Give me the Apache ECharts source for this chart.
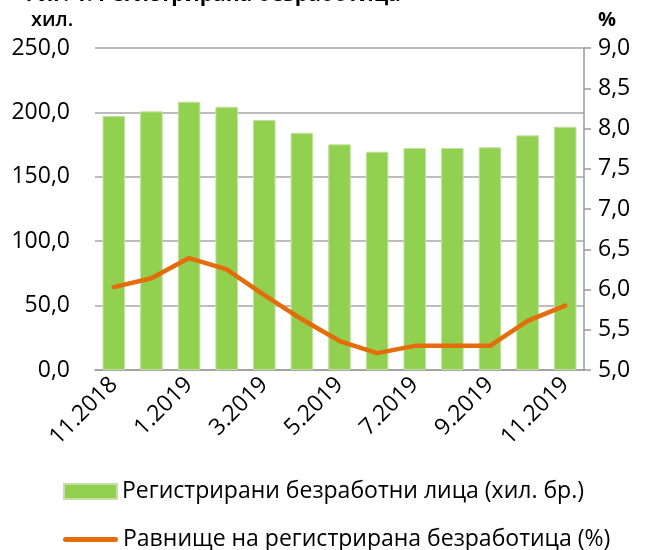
<!DOCTYPE html>
<html>
<head>
<meta charset="utf-8">
<script src="https://cdn.jsdelivr.net/npm/echarts@6/dist/echarts.min.js"></script>
<style>
  html, body { margin: 0; padding: 0; background: #fff; }
  #chart { width: 646px; height: 550px; }
</style>
</head>
<body>
<div id="chart"></div>
<script>
// months
var months = ['11.2018', '12.2018', '1.2019', '2.2019', '3.2019', '4.2019', '5.2019',
  '6.2019', '7.2019', '8.2019', '9.2019', '10.2019', '11.2019'];
// registered unemployed, thousands
var unemployed = [197.2, 200.8, 208.3, 204.4, 194.1, 184.2, 175.2, 169.5, 172.4, 172.4, 172.9, 182.2, 188.9];
// unemployment rate, %
var rate = [6.03, 6.14, 6.39, 6.25, 5.93, 5.63, 5.36, 5.21, 5.3, 5.3, 5.3, 5.61, 5.8];

var barName = 'Регистрирани безработни лица (хил. бр.)';
var lineName = 'Равнище на регистрирана безработица (%)';
var font = 'Open Sans';

var fmt = function (v) { return v.toFixed(1).replace('.', ','); };

var myChart = echarts.init(document.getElementById('chart'));

var legendText = { fontSize: 23, color: '#000', fontFamily: font };

var option = {
  animation: false,
  textStyle: { fontFamily: font },
  graphic: [
    // title, cut off by the top edge like in the original
    { type: 'text', x: 20, y: 6, style: { text: 'Фиг. 1. Регистрирана безработица', font: 'bold 21px "Open Sans"', fill: '#000', verticalAlign: 'bottom' } },
    { type: 'text', x: 31, y: 10, style: { text: 'хил.', font: '600 20px "Open Sans"', fill: '#000' } },
    { type: 'text', x: 598, y: 10, style: { text: '%', font: 'bold 20px "Open Sans"', fill: '#000' } }
  ],
  legend: [
    {
      left: 58, top: 475,
      itemWidth: 53, itemHeight: 15,
      textStyle: legendText,
      data: [{ name: barName, icon: 'rect' }]
    },
    {
      left: 58, top: 523,
      itemWidth: 55, itemHeight: 5,
      textStyle: legendText,
      data: [{ name: lineName, icon: 'path://M2.5,0 L52.5,0 A2.5,2.5 0 0 1 52.5,5 L2.5,5 A2.5,2.5 0 0 1 2.5,0 Z' }]
    }
  ],
  grid: { left: 95, right: 62, top: 48, bottom: 180 },
  xAxis: {
    type: 'category',
    data: months,
    axisLine: { lineStyle: { color: '#9a9a9a', width: 1.5 } },
    axisTick: { show: false },
    axisLabel: { interval: 1, rotate: 45, fontSize: 23, color: '#000', margin: 11 }
  },
  yAxis: [
    {
      type: 'value', min: 0, max: 250, interval: 50,
      axisLine: { show: false },
      axisTick: { show: false },
      splitLine: { lineStyle: { color: '#a6a6a6', width: 1.5 } },
      axisLabel: { fontSize: 23, color: '#000', margin: 25, formatter: fmt }
    },
    {
      type: 'value', min: 5, max: 9, interval: 0.5, position: 'right',
      axisLine: { show: true, lineStyle: { color: '#9a9a9a', width: 1.5 } },
      axisTick: { show: true, inside: false, length: 7, lineStyle: { color: '#9a9a9a', width: 1.5 } },
      splitLine: { show: false },
      axisLabel: { fontSize: 23, color: '#000', margin: 14, formatter: fmt }
    }
  ],
  series: [
    {
      name: barName, type: 'bar', yAxisIndex: 0,
      data: unemployed, barWidth: '60%',
      itemStyle: { color: '#92d050', borderColor: '#c5e0a5', borderWidth: 1 }
    },
    {
      name: lineName, type: 'line', yAxisIndex: 1,
      data: rate, symbol: 'none',
      lineStyle: { color: '#e46c0a', width: 4.5, cap: 'round', join: 'round' },
      itemStyle: { color: '#e46c0a' }
    }
  ]
};

myChart.setOption(option);
</script>
</body>
</html>
